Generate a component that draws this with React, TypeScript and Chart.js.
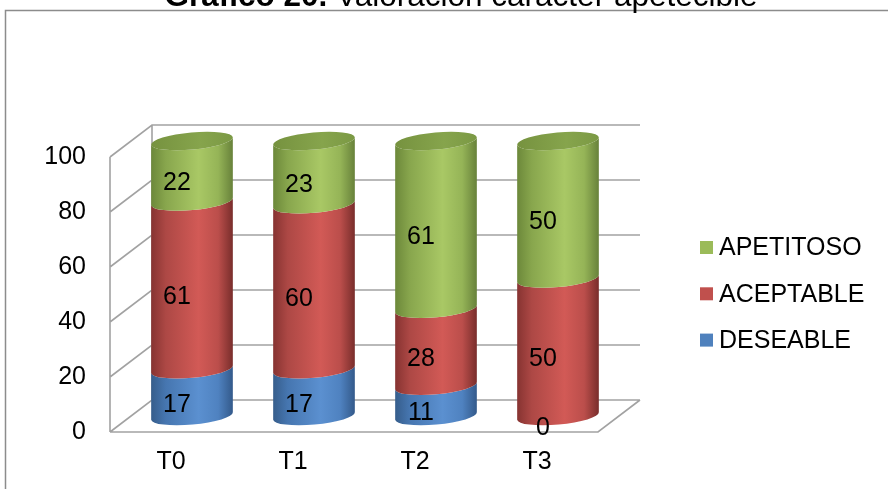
import { useEffect, useRef } from "react";
import { Chart, registerables } from "chart.js";

Chart.register(...registerables);

// Data
const categories = ["T0", "T1", "T2", "T3"];
const deseable = [17, 17, 11, 0];
const aceptable = [61, 60, 28, 50];
const apetitoso = [22, 23, 61, 50];
const yTicks = [0, 20, 40, 60, 80, 100];
const seriesNames = ["DESEABLE", "ACEPTABLE", "APETITOSO"];
const titleBold = "Gráfico 20.";
const titleRest = " Valoración carácter apetecible";

const FONT = '"Liberation Sans", Arial, Helvetica, sans-serif';

// 3D box depth (front axis -> back wall)
const DEPTH_X = 42;
const DEPTH_Y = -32;
// cylinder sits halfway into the box
const MID_X = DEPTH_X / 2;
const MID_Y = DEPTH_Y / 2;
const ELLIPSE_RY = 8.5;
const ELLIPSE_ROT = -0.09;

type Shade = { flat: string; body: string[]; cap: string[] };
const shades: Record<string, Shade> = {
  DESEABLE: {
    flat: "#4F81BD",
    body: ["#365d8b", "#4676b0", "#5b90d0", "#4f82c0", "#33598a"],
    cap: ["#3f6ca3", "#5283c0", "#4674ad"],
  },
  ACEPTABLE: {
    flat: "#C0504D",
    body: ["#863331", "#ad4845", "#d25a56", "#bb4e4b", "#782d2b"],
    cap: ["#a54542", "#bf514e", "#a94744"],
  },
  APETITOSO: {
    flat: "#9BBB59",
    body: ["#6c883a", "#88a64d", "#a9c865", "#95b457", "#67813a"],
    cap: ["#76923f", "#86a44c", "#7b9944"],
  },
};
const BODY_STOPS = [0, 0.18, 0.58, 0.82, 1];

function bodyPath(ctx: CanvasRenderingContext2D, cx: number, rx: number, yTop: number, yBot: number) {
  const c = Math.cos(ELLIPSE_ROT);
  const s = Math.sin(ELLIPSE_ROT);
  ctx.beginPath();
  ctx.ellipse(cx, yTop, rx, ELLIPSE_RY, ELLIPSE_ROT, 0, Math.PI, false);
  ctx.lineTo(cx - rx * c, yBot - rx * s);
  ctx.ellipse(cx, yBot, rx, ELLIPSE_RY, ELLIPSE_ROT, Math.PI, 0, true);
  ctx.closePath();
}

const box3dPlugin = {
  id: "box3d",
  beforeDraw(chart: any) {
    const ctx: CanvasRenderingContext2D = chart.ctx;
    ctx.save();
    ctx.fillStyle = "#ffffff";
    ctx.fillRect(0, 0, chart.width, chart.height);
    // outer frame
    ctx.strokeStyle = "#8c8c8c";
    ctx.lineWidth = 1.5;
    ctx.beginPath();
    ctx.moveTo(5.5, chart.height + 5);
    ctx.lineTo(5.5, 10.5);
    ctx.lineTo(chart.width + 5, 10.5);
    ctx.stroke();
    // title
    ctx.fillStyle = "#000000";
    ctx.textBaseline = "alphabetic";
    ctx.textAlign = "left";
    const size = 31.5;
    ctx.font = `bold ${size}px ${FONT}`;
    const wb = ctx.measureText(titleBold).width;
    ctx.font = `${size}px ${FONT}`;
    const wr = ctx.measureText(titleRest).width;
    const x0 = 461 - (wb + wr) / 2;
    ctx.font = `bold ${size}px ${FONT}`;
    ctx.fillText(titleBold, x0, 5.5);
    ctx.font = `${size}px ${FONT}`;
    ctx.fillText(titleRest, x0 + wb, 5.5);
    ctx.restore();
  },
  beforeDatasetsDraw(chart: any) {
    const ctx: CanvasRenderingContext2D = chart.ctx;
    const ys = chart.scales.y;
    const { left, right, top, bottom } = chart.chartArea;
    ctx.save();
    ctx.strokeStyle = "#a2a2a2";
    ctx.lineWidth = 1.6;
    ctx.beginPath();
    for (const t of yTicks) {
      const py = ys.getPixelForValue(t);
      ctx.moveTo(left, py);
      ctx.lineTo(left + DEPTH_X, py + DEPTH_Y);
      ctx.lineTo(right + DEPTH_X, py + DEPTH_Y);
    }
    ctx.moveTo(left, top);
    ctx.lineTo(left, bottom);
    ctx.moveTo(left + DEPTH_X, top + DEPTH_Y);
    ctx.lineTo(left + DEPTH_X, bottom + DEPTH_Y);
    ctx.moveTo(left, bottom);
    ctx.lineTo(right, bottom);
    ctx.lineTo(right + DEPTH_X, bottom + DEPTH_Y);
    ctx.stroke();
    ctx.restore();
  },
  afterDatasetsDraw(chart: any) {
    const ctx: CanvasRenderingContext2D = chart.ctx;
    const nSets = chart.data.datasets.length;
    ctx.save();
    // cylinder bodies, stacked bottom to top
    const topOf: { cx: number; rx: number; y: number; name: string }[] = [];
    for (let d = 0; d < nSets; d++) {
      const meta = chart.getDatasetMeta(d);
      const name = chart.data.datasets[d].label as string;
      const sh = shades[name];
      meta.data.forEach((el: any, i: number) => {
        const p = el.getProps(["x", "y", "base", "width"], true);
        const cx = p.x + MID_X;
        const rx = p.width / 2;
        const yTop = Math.min(p.y, p.base) + MID_Y;
        const yBot = Math.max(p.y, p.base) + MID_Y;
        if (yBot - yTop < 0.5) return;
        const g = ctx.createLinearGradient(cx - rx, 0, cx + rx, 0);
        sh.body.forEach((c, k) => g.addColorStop(BODY_STOPS[k], c));
        ctx.fillStyle = g;
        bodyPath(ctx, cx, rx, yTop, yBot);
        ctx.fill();
        if (!topOf[i] || yTop < topOf[i].y) topOf[i] = { cx, rx, y: yTop, name };
      });
    }
    // caps
    topOf.forEach((t) => {
      if (!t) return;
      const sh = shades[t.name];
      const g = ctx.createLinearGradient(t.cx - t.rx, 0, t.cx + t.rx, 0);
      g.addColorStop(0, sh.cap[0]);
      g.addColorStop(0.6, sh.cap[1]);
      g.addColorStop(1, sh.cap[2]);
      ctx.fillStyle = g;
      ctx.beginPath();
      ctx.ellipse(t.cx, t.y, t.rx, ELLIPSE_RY, ELLIPSE_ROT, 0, Math.PI * 2);
      ctx.fill();
    });
    // value labels
    ctx.fillStyle = "#000000";
    ctx.font = `25px ${FONT}`;
    ctx.textAlign = "center";
    ctx.textBaseline = "middle";
    for (let d = 0; d < nSets; d++) {
      const meta = chart.getDatasetMeta(d);
      const values = chart.data.datasets[d].data as number[];
      meta.data.forEach((el: any, i: number) => {
        const p = el.getProps(["x", "y", "base"], true);
        ctx.fillText(String(values[i]), p.x + 6, (p.y + p.base) / 2 - 4);
      });
    }
    ctx.restore();
  },
  afterDraw(chart: any) {
    // legend, top entry = last series
    const ctx: CanvasRenderingContext2D = chart.ctx;
    const sets = [...chart.data.datasets].reverse();
    ctx.save();
    ctx.font = `25px ${FONT}`;
    ctx.textAlign = "left";
    ctx.textBaseline = "middle";
    sets.forEach((ds: any, k: number) => {
      const cy = 247.5 + k * 46.3;
      ctx.fillStyle = shades[ds.label].flat;
      ctx.fillRect(700, cy - 6.5, 13, 13);
      ctx.fillStyle = "#000000";
      ctx.fillText(ds.label, 719, cy + 1);
    });
    ctx.restore();
  },
};

export default function App() {
  const ref = useRef<HTMLCanvasElement | null>(null);

  useEffect(() => {
    if (!ref.current) return;
    const seriesValues = [deseable, aceptable, apetitoso];
    const chart = new Chart(ref.current, {
      type: "bar",
      data: {
        labels: categories,
        datasets: seriesNames.map((name, k) => ({
          label: name,
          data: seriesValues[k],
          backgroundColor: "rgba(0,0,0,0)",
          borderWidth: 0,
          barPercentage: 0.672,
          categoryPercentage: 1,
        })),
      },
      options: {
        responsive: false,
        animation: false,
        devicePixelRatio: 1,
        layout: { padding: { top: 157, left: 0, right: 290, bottom: 0 } },
        plugins: {
          legend: { display: false },
          title: { display: false },
          tooltip: { enabled: false },
        },
        scales: {
          x: {
            stacked: true,
            grid: { display: false, drawTicks: false },
            border: { display: false },
            ticks: {
              color: "#000000",
              font: { family: FONT, size: 25 },
              padding: 15,
            },
            afterFit: (scale: any) => {
              scale.height = 57;
            },
          },
          y: {
            stacked: true,
            min: 0,
            max: 100,
            grid: { display: false, drawTicks: false },
            border: { display: false },
            ticks: {
              stepSize: 20,
              color: "#000000",
              font: { family: FONT, size: 25 },
              padding: 24,
            },
            afterFit: (scale: any) => {
              scale.width = 110;
            },
          },
        },
      },
      plugins: [box3dPlugin],
    });
    return () => chart.destroy();
  }, []);

  return (
    <div style={{ position: "fixed", left: 0, top: 0, width: 888, height: 489, background: "#fff" }}>
      <canvas ref={ref} width={888} height={489} style={{ display: "block", width: 888, height: 489 }} />
    </div>
  );
}
